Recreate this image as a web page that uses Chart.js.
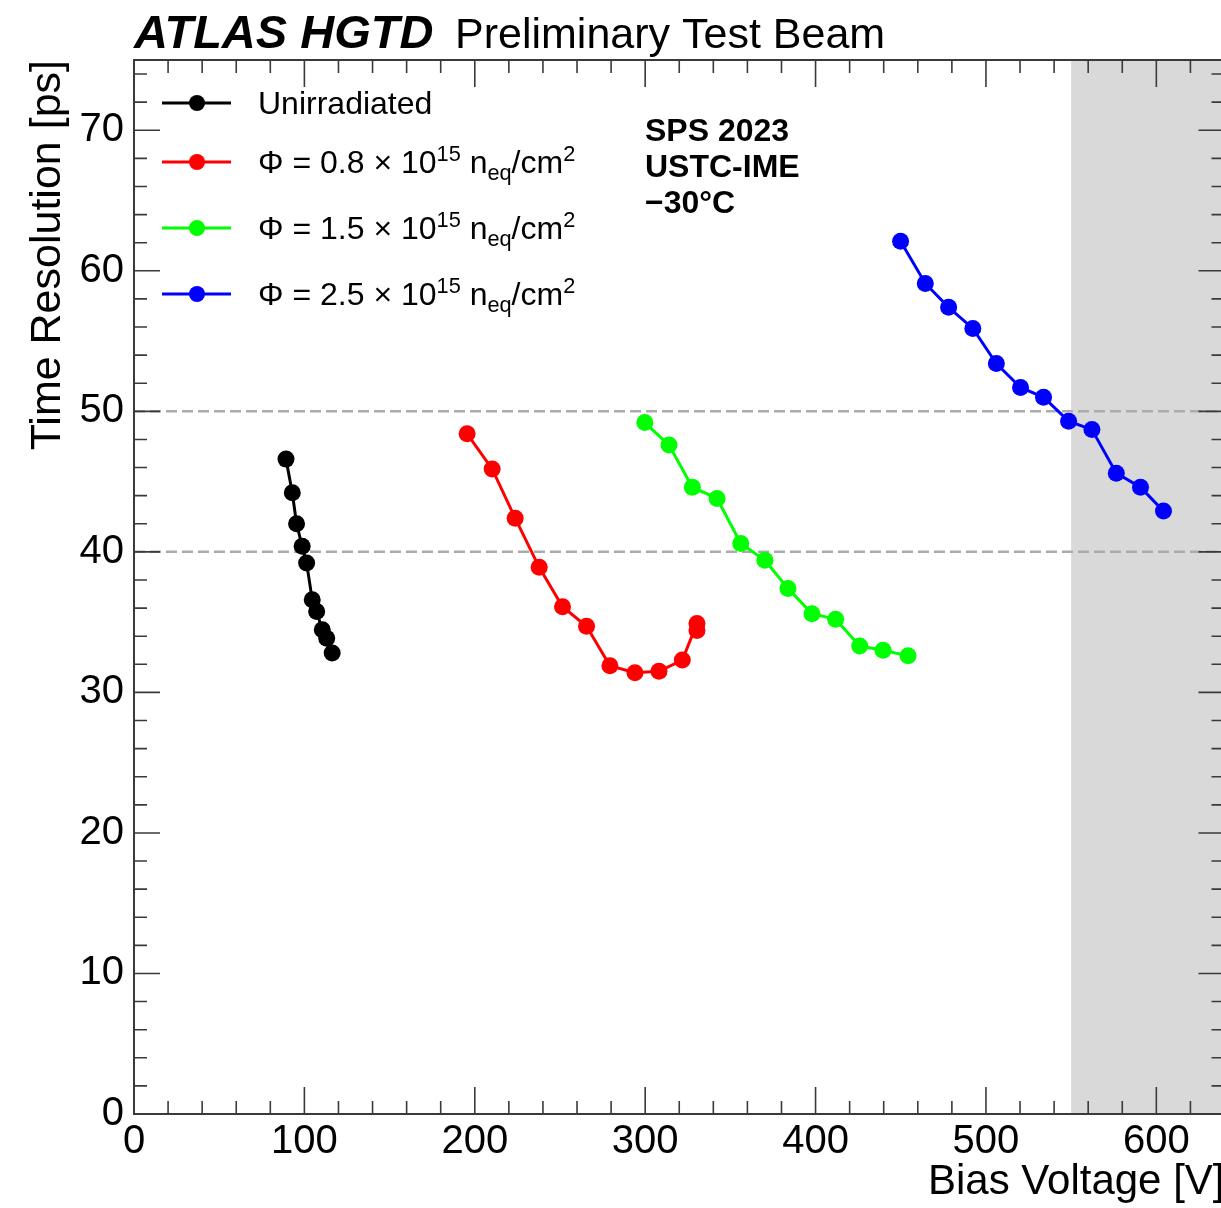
<!DOCTYPE html>
<html>
<head>
<meta charset="utf-8">
<script src="https://cdn.jsdelivr.net/npm/chart.js@4.4.1/dist/chart.umd.min.js"></script>
<style>
  html, body { margin: 0; padding: 0; background: #fff; overflow: hidden; width: 1221px; height: 1208px; }
  #wrap { position: absolute; left: 0; top: 0; width: 1233px; height: 1208px; }
  #grafico { width: 1233px; height: 1208px; }
</style>
</head>
<body>
<div id="wrap"><canvas id="grafico" width="1233" height="1208"></canvas></div>
<script>
// datos
const unirrV = [89.2, 92.9, 95.4, 98.7, 101.3, 104.6, 107.2, 110.5, 113.1, 116.3];
const unirrT = [46.6, 44.2, 42.0, 40.4, 39.2, 36.6, 35.75, 34.45, 33.85, 32.8];

const f08V = [195.5, 210.2, 223.7, 237.8, 251.5, 265.6, 279.3, 294.0, 308.1, 321.8, 330.4, 330.4];
const f08T = [48.4, 45.9, 42.4, 38.9, 36.1, 34.7, 31.9, 31.4, 31.5, 32.3, 34.9, 34.4];

const f15V = [299.8, 314.0, 327.7, 342.2, 356.1, 370.3, 383.8, 397.9, 411.8, 425.9, 439.6, 454.3];
const f15T = [49.2, 47.6, 44.6, 43.8, 40.6, 39.4, 37.4, 35.6, 35.2, 33.3, 33.0, 32.6];

const f25V = [449.9, 464.4, 478.1, 492.3, 506.1, 520.3, 533.8, 548.5, 562.2, 576.5, 590.7, 604.2];
const f25T = [62.1, 59.1, 57.4, 55.9, 53.4, 51.7, 51.0, 49.3, 48.7, 45.6, 44.6, 42.9];

const seriesNames = [
    'Unirradiated',
    'Φ = 0.8 × 10^{15} n_{eq}/cm^{2}',
    'Φ = 1.5 × 10^{15} n_{eq}/cm^{2}',
    'Φ = 2.5 × 10^{15} n_{eq}/cm^{2}'
];
const seriesColors = ['#000000', '#ff0000', '#00ff00', '#0000ff'];
const infoLines = ['SPS 2023', 'USTC-IME', '\u221230°C'];

const xMin = 0, xMax = 640;
const yMin = 0, yMax = 75;
const bandStart = 550;
const refLines = [40, 50];

const FONT = '"Liberation Sans", Arial, Helvetica, sans-serif';

function toPoints(vs, ts) {
    return vs.map((v, i) => ({x: v, y: ts[i]}));
}

// dibuja texto con ^{} y _{}
function drawRich(ctx, text, x, y, size) {
    const parts = text.split(/(\^\{[^}]*\}|_\{[^}]*\})/).filter(p => p !== '');
    let cx = x;
    parts.forEach(p => {
        let dy = 0, s = size, t = p;
        if (p.startsWith('^{')) { t = p.slice(2, -1); s = size * 0.68; dy = -size * 0.38; }
        else if (p.startsWith('_{')) { t = p.slice(2, -1); s = size * 0.68; dy = size * 0.22; }
        ctx.font = s + 'px ' + FONT;
        ctx.fillText(t, cx, y + dy);
        cx += ctx.measureText(t).width;
    });
}

const decoraciones = {
    id: 'decoraciones',
    beforeDatasetsDraw(chart) {
        const {ctx, chartArea: a, scales: {x, y}} = chart;
        ctx.save();
        const xb = x.getPixelForValue(bandStart);
        ctx.fillStyle = '#d9d9d9';
        ctx.fillRect(xb, a.top, a.right - xb, a.bottom - a.top);
        ctx.strokeStyle = '#ababab';
        ctx.lineWidth = 2.5;
        ctx.setLineDash([11, 5]);
        refLines.forEach(v => {
            const py = y.getPixelForValue(v);
            ctx.beginPath();
            ctx.moveTo(a.left, py);
            ctx.lineTo(a.right, py);
            ctx.stroke();
        });
        ctx.restore();
    },
    afterDraw(chart) {
        const {ctx, chartArea: a, scales: {x, y}} = chart;
        ctx.save();
        // marco
        ctx.strokeStyle = '#3a3a3a';
        ctx.lineWidth = 2;
        ctx.strokeRect(a.left, a.top, a.right - a.left, a.bottom - a.top);
        // ticks hacia adentro
        ctx.lineWidth = 1.6;
        ctx.beginPath();
        for (let v = xMin; v <= xMax; v += 20) {
            const px = x.getPixelForValue(v);
            const len = v % 100 === 0 ? 27 : 13;
            ctx.moveTo(px, a.bottom); ctx.lineTo(px, a.bottom - len);
            ctx.moveTo(px, a.top); ctx.lineTo(px, a.top + len);
        }
        for (let v = yMin; v <= yMax; v += 2) {
            const py = y.getPixelForValue(v);
            const len = v % 10 === 0 ? 26 : 13;
            ctx.moveTo(a.left, py); ctx.lineTo(a.left + len, py);
            ctx.moveTo(a.right, py); ctx.lineTo(a.right - len, py);
        }
        ctx.stroke();

        // titulo
        ctx.fillStyle = '#000';
        ctx.textBaseline = 'alphabetic';
        ctx.font = 'italic bold 47px ' + FONT;
        ctx.fillText('ATLAS HGTD', 134, 48);
        ctx.font = '43px ' + FONT;
        ctx.fillText('Preliminary Test Beam', 455, 48);

        // leyenda
        const rows = [103, 162, 228, 294];
        seriesNames.forEach((name, i) => {
            const ry = rows[i];
            ctx.strokeStyle = seriesColors[i];
            ctx.fillStyle = seriesColors[i];
            ctx.lineWidth = 3;
            ctx.beginPath();
            ctx.moveTo(162, ry); ctx.lineTo(231, ry);
            ctx.stroke();
            ctx.beginPath();
            ctx.arc(197, ry, 8, 0, Math.PI * 2);
            ctx.fill();
            ctx.fillStyle = '#000';
            drawRich(ctx, name, 258, ry + 11, 32);
        });

        // texto
        ctx.font = 'bold 32px ' + FONT;
        const base = [141, 177, 213];
        infoLines.forEach((t, i) => ctx.fillText(t, 645, base[i]));
        ctx.restore();
    }
};

const ctx = document.getElementById('grafico').getContext('2d');
const graficoTiempo = new Chart(ctx, {
    type: 'line',
    data: {
        datasets: [
            toPoints(unirrV, unirrT),
            toPoints(f08V, f08T),
            toPoints(f15V, f15T),
            toPoints(f25V, f25T)
        ].map((pts, i) => ({
            label: seriesNames[i],
            data: pts,
            borderColor: seriesColors[i],
            backgroundColor: seriesColors[i],
            borderWidth: 3,
            pointRadius: 8.5,
            pointBorderWidth: 0,
            pointBackgroundColor: seriesColors[i],
            tension: 0
        }))
    },
    options: {
        responsive: false,
        animation: false,
        devicePixelRatio: 1,
        layout: {padding: {top: 60, right: 3, left: 0, bottom: 0}},
        plugins: {legend: {display: false}, tooltip: {enabled: false}},
        scales: {
            x: {
                type: 'linear',
                min: xMin, max: xMax,
                grid: {display: false, drawTicks: false},
                border: {display: false},
                ticks: {stepSize: 100, includeBounds: false, padding: 4, color: '#000',
                        font: {family: FONT, size: 40}, maxRotation: 0},
                title: {display: true, text: 'Bias Voltage [V]', align: 'end', color: '#000',
                        font: {family: FONT, size: 42}, padding: {top: 0, bottom: 0}},
                afterFit(s) { s.height = 94; }
            },
            y: {
                type: 'linear',
                min: yMin, max: yMax,
                grid: {display: false, drawTicks: false},
                border: {display: false},
                ticks: {stepSize: 10, includeBounds: false, padding: 10, color: '#000',
                        font: {family: FONT, size: 40}},
                title: {display: true, text: 'Time Resolution [ps]', align: 'end', color: '#000',
                        font: {family: FONT, size: 43}, padding: {top: 22, bottom: 0}},
                afterFit(s) { s.width = 134; }
            }
        }
    },
    plugins: [decoraciones]
});
</script>
</body>
</html>
